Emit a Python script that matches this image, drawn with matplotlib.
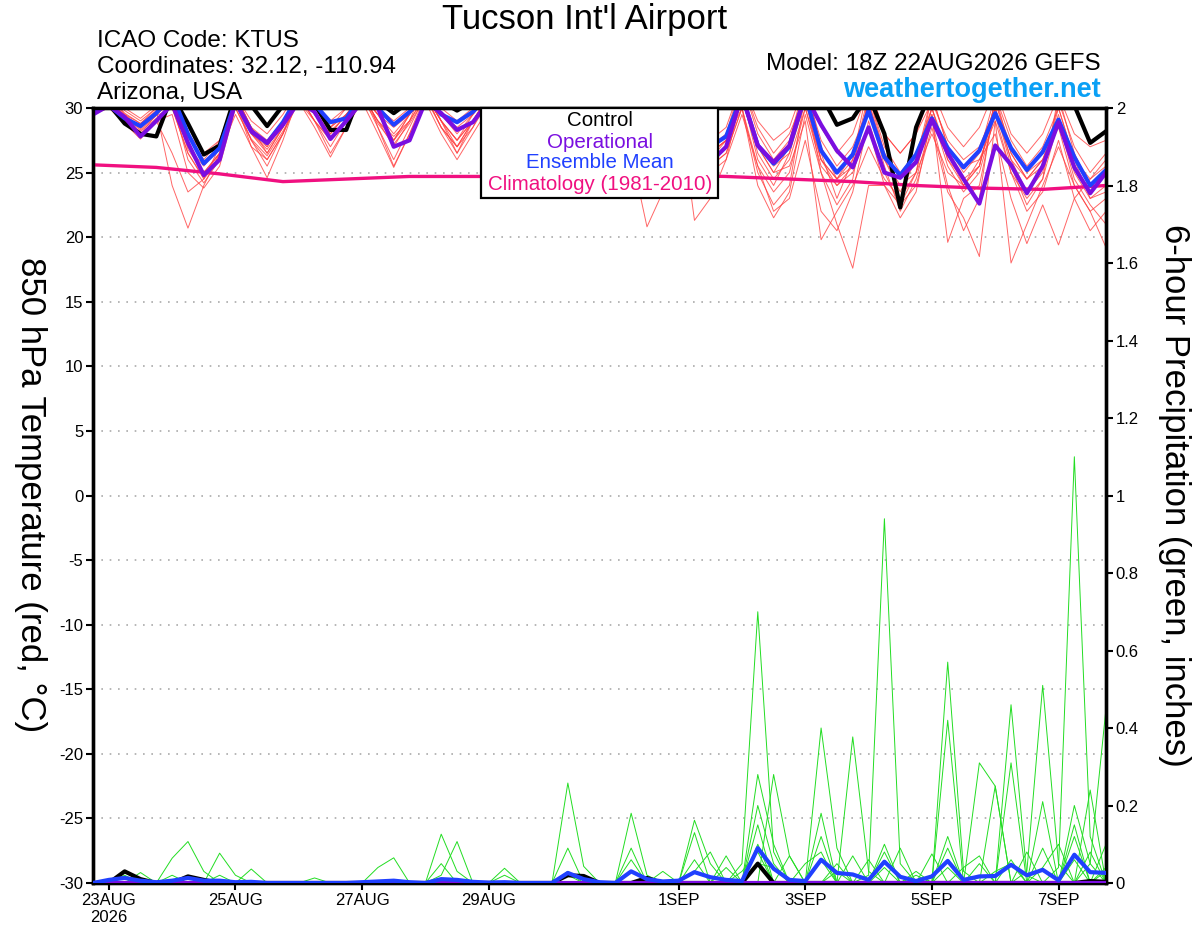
import matplotlib
matplotlib.use("Agg")
import matplotlib.pyplot as plt
import pandas as pd
from matplotlib.patches import Rectangle

plt.rcParams['font.family'] = ['Liberation Sans', 'DejaVu Sans']

# 6-hourly steps from the 18Z 22AUG2026 run
times = pd.date_range("2026-08-22 18:00", periods=65, freq="6h")
clim_times = times[::4]

tick_dates = pd.to_datetime(["2026-08-23", "2026-08-25", "2026-08-27", "2026-08-29",
                             "2026-09-01", "2026-09-03", "2026-09-05", "2026-09-07"])
tick_labels = ["23AUG\n2026", "25AUG", "27AUG", "29AUG", "1SEP", "3SEP", "5SEP", "7SEP"]

# 850 hPa temperature (C)
mean_t = [29.7,
          30.2, 29.2, 28.6, 29.6, 31.0, 28.0, 25.7, 26.9, 30.5, 28.2, 27.3, 28.9, 31.0, 30.3, 28.9, 29.2,
          31.0, 30.0, 28.7, 29.7, 31.0, 29.5, 28.9, 29.7, 31.0, 29.5, 28.5, 29.5, 31.0, 29.0, 28.0, 29.0,
          31.0, 29.0, 27.8, 28.8, 31.0, 28.5, 27.0, 27.8, 31.0, 27.1, 25.7, 27.0, 31.0, 26.7, 25.0, 26.4,
          29.8, 26.2, 24.8, 26.4, 29.2, 26.9, 25.4, 26.7, 29.6, 26.9, 25.2, 26.6, 29.1, 26.2, 24.0, 25.2]
oper_t = [29.5,
          30.2, 29.3, 27.8, 29.0, 30.3, 27.3, 24.8, 26.0, 30.5, 28.2, 27.3, 28.7, 30.5, 29.7, 27.6, 29.0,
          30.5, 30.0, 27.0, 27.5, 30.5, 29.6, 28.3, 28.9, 30.5, 29.0, 28.0, 29.0, 30.5, 28.5, 27.5, 28.5,
          30.5, 28.5, 27.0, 28.0, 30.5, 27.5, 25.8, 27.0, 31.0, 27.1, 25.8, 27.1, 31.0, 28.7, 26.7, 25.4,
          28.5, 25.0, 24.6, 25.8, 29.1, 26.5, 24.5, 22.6, 27.1, 25.6, 23.4, 25.5, 28.9, 25.4, 23.4, 25.0]
ctrl_t = [30.0,
          30.3, 28.8, 28.0, 27.8, 31.0, 28.8, 26.4, 27.1, 31.0, 30.2, 28.6, 30.2, 31.0, 30.3, 28.3, 28.3,
          31.5, 30.5, 29.6, 30.5, 31.5, 30.5, 29.8, 30.5, 31.5, 30.5, 29.5, 30.5, 31.5, 30.5, 29.5, 30.5,
          31.5, 30.5, 29.5, 30.5, 31.5, 30.5, 29.5, 30.5, 32.0, 31.0, 30.5, 31.0, 32.0, 31.0, 28.7, 29.2,
          31.0, 28.0, 22.3, 28.5, 31.5, 31.0, 30.5, 31.0, 32.0, 31.0, 30.5, 31.0, 31.0, 30.2, 27.3, 28.2]
clim_t = [25.6, 25.4, 24.9, 24.3, 24.5, 24.7, 24.7, 24.7, 24.8,
          24.8, 24.7, 24.5, 24.3, 24.0, 23.8, 23.7, 24.0]

temp_members = [
    [29.8,
     30.5, 29.5, 28.8, 29.8, 24.0, 20.7, 24.0, 26.5, 29.5, 27.0, 26.0, 28.0, 31.0, 30.0, 28.5, 29.5,
     31.0, 29.0, 27.5, 29.0, 32.0, 29.5, 28.0, 29.5, 31.0, 28.0, 27.0, 28.5, 30.5, 27.5, 26.0, 28.0,
     31.0, 26.5, 20.8, 23.5, 30.0, 27.0, 26.0, 27.0, 30.5, 27.0, 25.0, 25.5, 29.0, 19.8, 22.0, 24.0,
     27.0, 24.5, 23.0, 25.0, 30.0, 26.0, 24.0, 26.0, 29.0, 18.0, 21.0, 24.0, 27.0, 24.0, 22.0, 23.0],
    [29.5,
     31.0, 29.0, 28.0, 29.0, 26.5, 23.5, 24.5, 27.0, 31.0, 28.5, 27.0, 29.0, 31.5, 29.5, 28.0, 29.5,
     31.0, 29.5, 27.5, 29.5, 31.5, 29.0, 27.5, 29.0, 31.0, 29.0, 28.0, 29.0, 31.0, 28.5, 27.5, 28.5,
     30.5, 28.0, 27.0, 28.0, 30.5, 21.3, 23.0, 26.0, 31.0, 26.0, 24.0, 26.5, 31.0, 25.0, 21.0, 17.6,
     24.0, 24.0, 22.5, 25.0, 28.0, 25.0, 24.0, 25.5, 30.0, 26.0, 24.5, 26.0, 29.5, 25.0, 23.0, 24.0],
    [30.0,
     31.0, 29.8, 29.0, 30.0, 31.0, 27.5, 24.8, 26.5, 30.5, 27.5, 25.5, 28.0, 31.0, 29.0, 27.5, 29.0,
     32.0, 28.5, 26.0, 28.5, 31.0, 29.0, 27.5, 29.5, 31.5, 29.5, 28.0, 29.0, 31.0, 29.0, 27.5, 28.5,
     31.0, 28.5, 27.0, 28.0, 31.0, 28.0, 26.5, 27.5, 32.0, 28.0, 26.0, 27.5, 32.0, 27.0, 24.5, 26.0,
     31.0, 27.0, 25.0, 26.5, 30.0, 26.5, 24.0, 25.5, 30.5, 27.0, 25.0, 26.0, 29.0, 25.5, 23.5, 25.0],
    [29.8,
     30.5, 29.0, 28.2, 29.2, 30.0, 26.5, 24.5, 26.0, 31.0, 28.0, 26.5, 28.5, 31.5, 29.5, 28.0, 29.5,
     31.0, 29.0, 27.0, 29.0, 31.0, 28.5, 26.5, 28.5, 31.0, 28.5, 27.5, 28.5, 31.0, 28.0, 26.5, 28.0,
     30.5, 27.5, 26.5, 27.5, 30.0, 27.5, 26.0, 27.0, 31.0, 26.5, 24.5, 26.0, 30.0, 25.5, 24.0, 25.5,
     30.5, 26.0, 24.0, 25.0, 31.0, 27.0, 25.5, 26.0, 28.0, 23.0, 19.5, 22.5, 19.4, 23.0, 24.5, 26.0],
    [30.0,
     31.0, 29.5, 28.5, 29.8, 31.0, 27.0, 25.0, 26.5, 30.5, 27.0, 24.6, 27.5, 31.0, 29.0, 26.5, 28.5,
     31.0, 28.5, 25.5, 28.0, 31.0, 29.0, 26.5, 29.0, 31.0, 29.0, 27.0, 28.5, 30.5, 28.0, 26.5, 27.5,
     31.0, 28.0, 26.0, 27.0, 30.5, 27.0, 25.5, 26.5, 30.0, 25.0, 22.5, 24.0, 31.0, 26.0, 24.5, 26.5,
     30.0, 25.5, 22.0, 24.5, 29.0, 24.0, 20.5, 23.0, 31.0, 26.5, 24.5, 26.0, 28.5, 24.0, 22.0, 19.2],
    [29.6,
     30.8, 29.3, 28.4, 29.6, 30.8, 27.0, 25.5, 27.0, 31.0, 28.5, 26.5, 28.5, 31.0, 29.0, 27.0, 29.0,
     31.0, 29.5, 27.5, 29.5, 31.0, 28.5, 27.0, 29.0, 31.0, 28.5, 27.0, 28.5, 31.0, 28.5, 27.0, 28.0,
     31.0, 28.0, 27.5, 28.5, 31.0, 28.0, 27.0, 28.0, 32.0, 28.5, 26.5, 28.0, 31.0, 26.5, 23.0, 26.0,
     32.0, 28.0, 26.5, 28.0, 30.5, 27.5, 26.0, 27.0, 30.0, 26.0, 23.5, 25.0, 30.5, 27.0, 25.0, 26.5],
    [29.7,
     30.3, 29.0, 28.0, 29.5, 30.5, 26.0, 24.2, 26.0, 30.5, 28.0, 26.8, 28.5, 31.0, 29.5, 28.5, 29.5,
     31.0, 29.5, 28.0, 29.5, 31.0, 29.0, 27.0, 29.0, 30.5, 28.0, 26.5, 28.0, 31.0, 28.5, 27.0, 28.0,
     30.0, 27.0, 25.5, 27.0, 30.5, 27.5, 26.5, 27.5, 30.0, 24.0, 21.5, 23.5, 29.5, 25.0, 22.5, 24.5,
     31.0, 26.5, 24.5, 26.0, 29.5, 19.6, 23.0, 24.0, 30.0, 25.5, 22.5, 24.5, 31.0, 26.5, 24.0, 25.0],
    [30.0,
     31.0, 30.0, 29.2, 30.2, 31.5, 28.0, 26.5, 27.5, 31.0, 29.0, 28.0, 29.5, 31.5, 30.0, 29.0, 30.0,
     31.5, 30.0, 29.0, 30.0, 31.5, 30.0, 29.0, 30.0, 31.5, 29.5, 28.5, 29.5, 31.0, 29.0, 28.0, 29.0,
     31.0, 29.0, 28.0, 29.0, 31.0, 28.5, 27.5, 28.5, 32.0, 29.0, 27.5, 28.5, 32.0, 28.5, 26.5, 28.0,
     31.5, 28.0, 26.5, 28.0, 31.5, 28.5, 27.0, 28.5, 31.5, 28.0, 26.5, 28.0, 31.0, 28.0, 27.0, 27.5],
    [29.5,
     30.0, 28.8, 27.6, 29.0, 29.5, 25.0, 23.8, 25.5, 30.0, 27.5, 26.0, 28.0, 30.5, 28.5, 26.2, 28.5,
     30.5, 28.0, 25.4, 28.0, 30.5, 28.0, 26.0, 28.0, 30.0, 27.5, 25.5, 27.5, 30.0, 27.0, 25.5, 27.0,
     30.5, 26.5, 23.0, 26.0, 29.5, 26.5, 25.0, 26.0, 29.5, 25.5, 22.0, 23.0, 27.5, 22.0, 20.5, 23.5,
     29.0, 25.0, 22.5, 24.0, 28.5, 23.5, 21.5, 18.5, 29.0, 25.0, 22.0, 23.5, 27.5, 23.0, 20.5, 22.0],
    [30.0,
     31.0, 29.6, 28.8, 30.0, 31.0, 28.0, 26.0, 27.5, 31.0, 28.5, 27.5, 29.0, 31.0, 30.0, 28.5, 30.0,
     31.0, 29.5, 28.5, 29.5, 31.0, 29.5, 28.5, 29.5, 31.0, 29.0, 28.0, 29.0, 31.0, 28.5, 27.5, 28.5,
     31.0, 28.5, 27.0, 28.5, 31.0, 28.0, 26.5, 27.5, 31.0, 27.0, 25.0, 27.0, 31.5, 27.5, 25.5, 27.0,
     30.0, 26.0, 23.5, 26.0, 31.0, 27.0, 25.0, 26.5, 31.0, 27.5, 25.5, 27.0, 30.0, 26.0, 23.0, 23.5],
    [29.9,
     30.6, 29.4, 28.6, 29.5, 30.5, 26.8, 25.0, 26.5, 30.5, 28.0, 27.0, 28.8, 31.0, 29.5, 28.2, 29.4,
     31.0, 29.0, 27.8, 29.0, 31.0, 29.0, 27.5, 29.0, 31.0, 28.5, 27.0, 28.5, 31.0, 28.5, 26.5, 27.5,
     30.5, 27.5, 26.0, 27.0, 31.0, 27.5, 26.0, 27.5, 31.0, 27.0, 25.5, 26.5, 30.5, 26.0, 24.5, 25.5,
     30.5, 26.5, 24.5, 26.0, 30.0, 26.0, 24.5, 25.5, 30.5, 26.5, 24.5, 25.5, 30.0, 26.0, 24.5, 25.5],
    [29.7,
     30.4, 29.2, 28.3, 29.4, 30.0, 26.5, 24.6, 26.3, 30.0, 27.6, 26.3, 28.2, 30.5, 29.0, 27.6, 29.0,
     30.8, 28.8, 27.2, 28.8, 30.8, 28.5, 27.0, 28.5, 30.5, 28.0, 26.5, 28.0, 30.5, 28.0, 26.5, 28.0,
     30.5, 27.5, 26.0, 27.5, 30.5, 27.0, 25.5, 26.5, 30.0, 25.5, 23.5, 25.0, 30.0, 26.0, 24.0, 25.0,
     28.5, 24.0, 21.5, 23.5, 29.5, 25.5, 23.5, 25.0, 29.5, 25.0, 23.0, 24.5, 29.0, 24.5, 22.5, 21.0],
]

# 6-hour precipitation (inches)
mean_p = [0,
          .008, .013, .006, .002, .006, .013, .006, .006, .002, .003, 0, 0, 0, 0, 0, 0,
          .002, .004, .006, .002, 0, .010, .008, .003, .001, .002, 0, 0, 0, .026, .010, .002,
          0, .030, .010, .004, .006, .028, .015, .008, .005, .090, .037, .008, .005, .060, .026, .022,
          .008, .055, .016, .005, .017, .057, .008, .017, .018, .047, .020, .034, .007, .073, .028, .026]
ctrl_p = [0,
          0, .03, .01, 0, 0, .017, .008, 0, 0, 0, 0, 0, 0, 0, 0, 0,
          0, 0, 0, 0, 0, 0, 0, 0, 0, 0, 0, 0, 0, .02, .018, 0,
          0, 0, .013, 0, 0, 0, 0, 0, 0, .05, 0, 0, 0, 0, 0, 0,
          0, 0, 0, 0, 0, 0, 0, 0, 0, 0, 0, 0, 0, 0, .005, .003]
oper_p = [0.0] * 65

precip_members = [
    [0,
     0, 0, 0, 0, .064, .107, .03, 0, 0, 0, 0, 0, 0, 0, 0, 0,
     0, 0, 0, 0, 0, 0, 0, 0, 0, 0, 0, 0, 0, 0, 0, 0,
     0, 0, 0, 0, 0, 0, 0, 0, .05, .70, .08, 0, 0, 0, 0, 0,
     .02, .94, .05, 0, 0, 0, 0, 0, 0, 0, 0, 0, .04, 1.10, .12, 0],
    [0,
     0, 0, .027, 0, 0, 0, 0, .077, .02, 0, 0, 0, 0, 0, 0, 0,
     0, 0, 0, 0, 0, 0, 0, 0, 0, 0, 0, 0, 0, .258, .043, 0,
     0, 0, 0, 0, 0, 0, 0, 0, 0, 0, 0, 0, 0, .40, .09, 0,
     0, 0, 0, 0, 0, .57, .03, 0, 0, .46, .02, 0, 0, 0, .05, .45],
    [0,
     0, 0, 0, 0, 0, 0, 0, 0, 0, .036, 0, 0, 0, 0, 0, 0,
     0, 0, 0, 0, 0, .126, .03, 0, 0, 0, 0, 0, 0, 0, 0, 0,
     0, .18, .02, 0, 0, 0, 0, 0, 0, .28, .10, 0, 0, 0, 0, .377,
     .03, 0, 0, 0, 0, 0, 0, 0, 0, 0, .03, .51, .05, 0, 0, 0],
    [0,
     0, 0, 0, 0, 0, 0, 0, 0, 0, 0, 0, 0, 0, 0, 0, 0,
     0, .04, .065, 0, 0, .02, .107, 0, 0, 0, 0, 0, 0, 0, 0, 0,
     0, 0, 0, 0, 0, .162, .05, 0, 0, 0, .28, .07, 0, 0, 0, 0,
     0, 0, 0, 0, 0, .42, 0, .31, .25, 0, 0, 0, 0, 0, .24, 0],
    [0,
     0, 0, 0, 0, 0, 0, 0, 0, 0, 0, 0, 0, 0, .013, 0, 0,
     0, 0, 0, 0, 0, 0, 0, 0, 0, .038, 0, 0, 0, .09, 0, 0,
     0, .09, 0, 0, 0, .13, 0, .07, 0, 0, 0, 0, 0, .18, 0, 0,
     0, .08, 0, 0, 0, 0, 0, 0, 0, .31, 0, .21, 0, 0, 0, 0],
    [0,
     0, .02, 0, 0, 0, 0, 0, 0, 0, 0, 0, 0, 0, 0, 0, 0,
     0, 0, 0, 0, 0, .05, 0, 0, 0, 0, 0, 0, 0, .03, 0, 0,
     0, .06, 0, .03, 0, 0, 0, 0, 0, .15, 0, .07, 0, 0, .05, 0,
     0, 0, .09, 0, .075, 0, 0, 0, .25, 0, 0, 0, 0, .12, 0, .04],
    [0,
     0, 0, 0, 0, 0, 0, 0, 0, 0, 0, 0, 0, 0, 0, 0, 0,
     0, 0, 0, 0, 0, 0, 0, 0, 0, 0, 0, 0, 0, 0, 0, 0,
     0, 0, 0, 0, 0, 0, 0, 0, 0, .20, .05, 0, 0, .12, 0, 0,
     0, .10, 0, 0, 0, .09, 0, .05, 0, 0, .08, 0, 0, .20, .05, 0],
    [0,
     0, 0, 0, 0, 0, .02, 0, 0, 0, 0, 0, 0, 0, 0, 0, 0,
     0, 0, 0, 0, 0, 0, 0, 0, 0, 0, 0, 0, 0, 0, 0, 0,
     0, 0, 0, 0, 0, .06, 0, .04, 0, .10, 0, 0, 0, .06, 0, .07,
     0, 0, 0, .03, 0, .12, 0, 0, 0, .06, 0, .09, 0, .15, 0, .03],
    [0,
     0, 0, 0, 0, 0, 0, 0, 0, 0, 0, 0, 0, 0, 0, 0, 0,
     0, 0, 0, 0, 0, 0, 0, 0, 0, .02, 0, 0, 0, 0, 0, 0,
     0, 0, 0, 0, 0, 0, 0, 0, .03, .08, 0, 0, .05, .08, 0, 0,
     0, .04, 0, 0, 0, 0, .04, .07, 0, 0, 0, .04, .10, 0, .08, 0],
    [0,
     .01, 0, 0, 0, .02, 0, 0, .02, 0, 0, 0, 0, 0, 0, 0, 0,
     0, 0, 0, 0, 0, 0, 0, 0, 0, 0, 0, 0, 0, .02, 0, 0,
     0, 0, 0, 0, 0, .03, .08, 0, 0, .05, .04, 0, 0, 0, .03, 0,
     .06, 0, 0, .02, 0, .04, 0, 0, .03, .05, 0, 0, 0, .06, 0, .10],
]

RED = '#ff4040'
GREEN = '#22dd22'
BLUE = '#2040ff'
PURPLE = '#7a0ee0'
MAGENTA = '#f01080'

W, H = 1200, 927
fig = plt.figure(figsize=(W / 100, H / 100), dpi=100)
ax = fig.add_axes([93 / W, 1 - 883 / H, (1106 - 93) / W, (883 - 108) / H])
ax2 = ax.twinx()

# temperature
for m in temp_members:
    ax.plot(times, m, color=RED, lw=0.7, alpha=0.8, zorder=2)
ax.plot(clim_times, clim_t, color=MAGENTA, lw=2.4, zorder=3)
ax.plot(times, ctrl_t, color='black', lw=3, zorder=4)
ax.plot(times, mean_t, color=BLUE, lw=3, zorder=5)
ax.plot(times, oper_t, color=PURPLE, lw=3, zorder=6)

# precipitation
for g in precip_members:
    ax2.plot(times, g, color=GREEN, lw=0.7, zorder=2)
ax2.plot(times, ctrl_p, color='black', lw=3, zorder=4)
ax2.plot(times, oper_p, color=PURPLE, lw=3, zorder=5)
ax2.plot(times, mean_p, color=BLUE, lw=3, zorder=6)

ax.set_xlim(times[0], times[-1])
ax.set_ylim(-30, 30)
ax2.set_ylim(0, 2)

ax.set_yticks(range(-30, 31, 5))
ax.set_yticklabels([str(v) for v in range(-30, 31, 5)])
p_ticks = [i / 5 for i in range(11)]
ax2.set_yticks(p_ticks)
ax2.set_yticklabels([f"{v:g}" for v in p_ticks])
ax.set_xticks(tick_dates)
ax.set_xticklabels(tick_labels)

ax.yaxis.grid(True, linestyle=(0, (1, 4)), color='#aaaaaa', lw=1.2)

for a in (ax, ax2):
    for s in a.spines.values():
        s.set_linewidth(2.4)
    a.tick_params(axis='both', direction='out', length=5, width=1.5, labelsize=12, pad=2)

# headers
fig.text(585 / W, 1 - 19 / H, "Tucson Int'l Airport", ha='center', va='center', fontsize=25)
fig.text(97 / W, 1 - 41 / H, "ICAO Code: KTUS", ha='left', va='center', fontsize=17.5)
fig.text(97 / W, 1 - 67 / H, "Coordinates: 32.12, -110.94", ha='left', va='center', fontsize=17.5)
fig.text(97 / W, 1 - 93 / H, "Arizona, USA", ha='left', va='center', fontsize=17.5)
fig.text(1101 / W, 1 - 64 / H, "Model: 18Z 22AUG2026 GEFS", ha='right', va='center', fontsize=17.5)
fig.text(1101 / W, 1 - 90 / H, "weathertogether.net", ha='right', va='center', fontsize=19.5,
         fontweight='bold', color='#0aa0f5')

fig.text(30 / W, 1 - 495 / H, "850 hPa Temperature (red, °C)", ha='center', va='center',
         rotation=270, fontsize=25)
fig.text(1175 / W, 1 - 495 / H, "6-hour Precipitation (green, inches)", ha='center', va='center',
         rotation=270, fontsize=25)

# legend box
fig.patches.append(Rectangle((481 / W, 1 - 198 / H), (718 - 481) / W, 90 / H,
                             transform=fig.transFigure, facecolor='white', edgecolor='black',
                             lw=1.6, zorder=5))
for txt, col, yy in [("Control", 'black', 121), ("Operational", PURPLE, 142),
                     ("Ensemble Mean", BLUE, 163), ("Climatology (1981-2010)", MAGENTA, 185)]:
    fig.text(600 / W, 1 - yy / H, txt, ha='center', va='center', fontsize=14.8, color=col, zorder=6)

fig.savefig("out.png", dpi=100)
